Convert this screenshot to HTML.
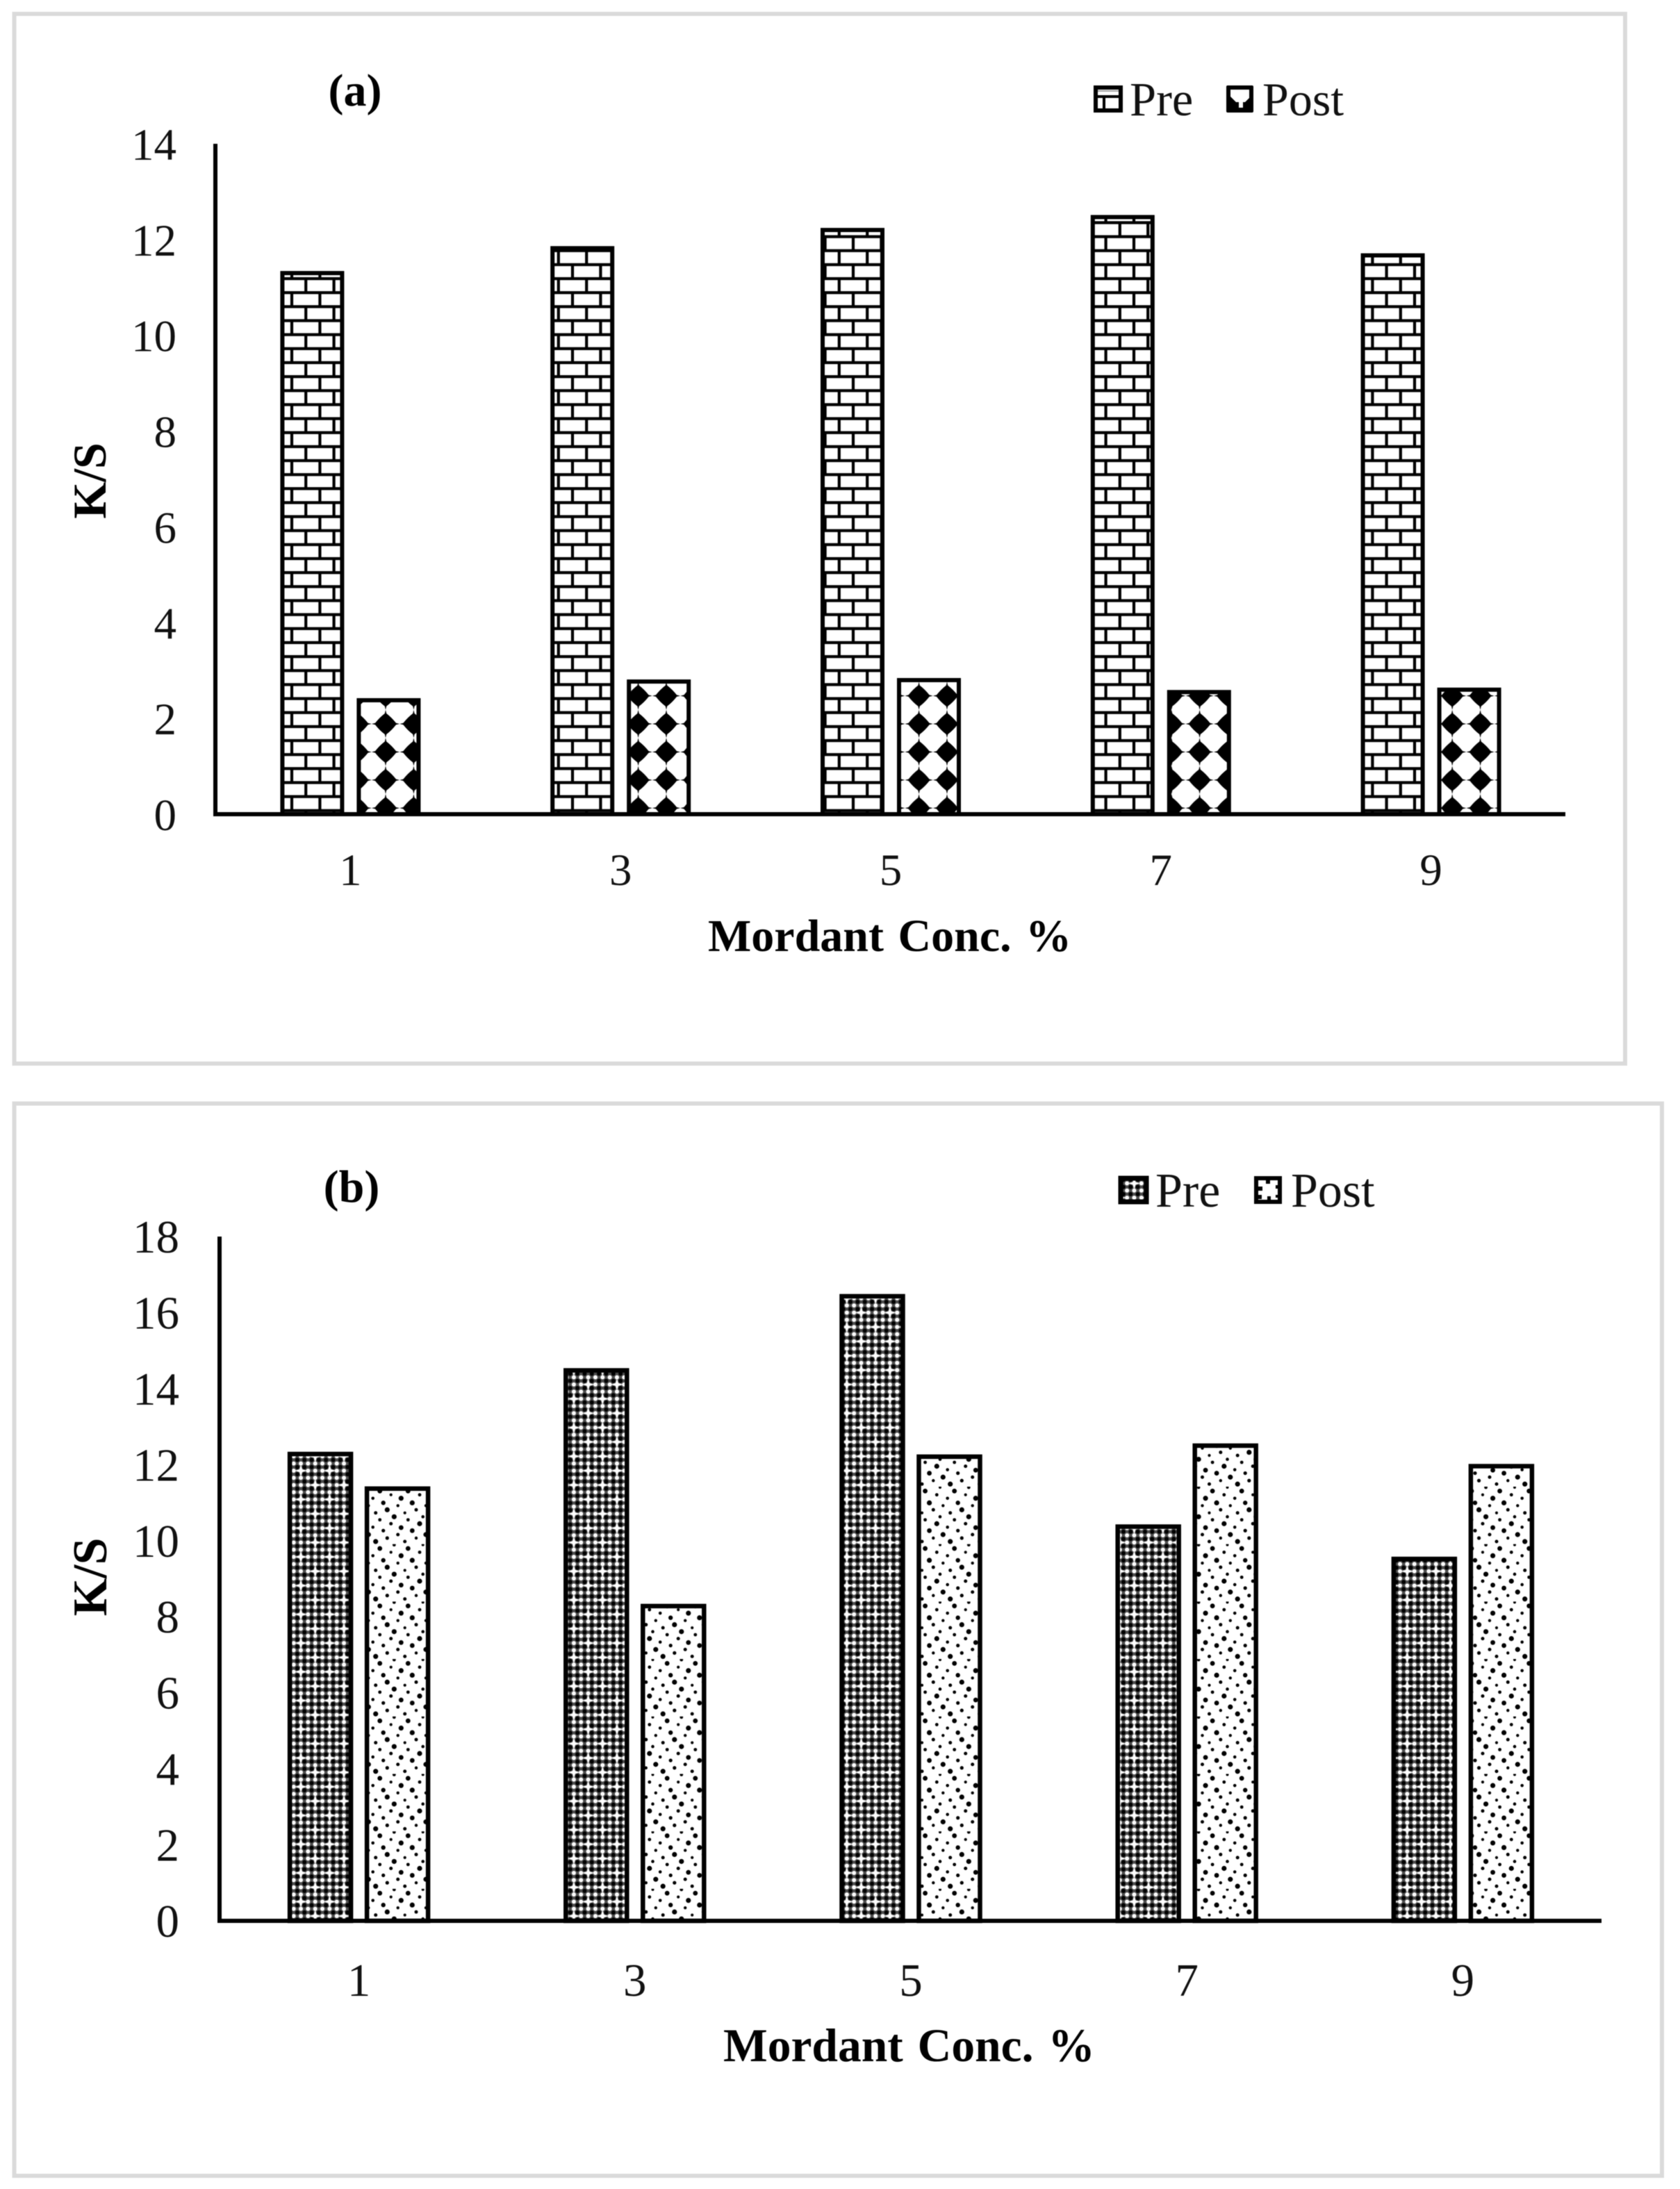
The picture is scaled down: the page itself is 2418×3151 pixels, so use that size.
<!DOCTYPE html>
<html lang="en">
<head>
<meta charset="utf-8">
<title>K/S vs Mordant Conc. %</title>
<style>
html,body{margin:0;padding:0;background:#fff;}
svg{display:block;filter:blur(0.6px);}
text{font-family:"Liberation Serif","Times New Roman",serif;fill:#111;}
.b{font-weight:bold;fill:#000;}
</style>
</head>
<body>
<svg id="figure" xmlns="http://www.w3.org/2000/svg" width="2418" height="3151" viewBox="0 0 2418 3151">
<defs>
  <pattern id="brick" patternUnits="userSpaceOnUse" x="420" y="925" width="40.4" height="40.3">
    <rect width="40.4" height="40.3" fill="#fff"/>
    <g stroke="#000" stroke-width="4.2" fill="none">
      <path d="M0 0H40.4M0 20.15H40.4M0 40.3H40.4"/>
      <path d="M20.2 0V20.15M0 20.15V40.3M40.4 20.15V40.3"/>
    </g>
  </pattern>
  <pattern id="stars" patternUnits="userSpaceOnUse" x="555" y="1042" width="40.4" height="40.4">
    <rect width="40.4" height="40.4" fill="#fff"/>
    <g fill="#000">
      <path d="M0 -20.2L1.2 -15Q9 -9 15 -1.2L20.2 0L15 1.2Q9 9 1.2 15L0 20.2L-1.2 15Q-9 9 -15 1.2L-20.2 0L-15 -1.2Q-9 -9 -1.2 -15Z"/>
      <path transform="translate(40.4,0)" d="M0 -20.2L1.2 -15Q9 -9 15 -1.2L20.2 0L15 1.2Q9 9 1.2 15L0 20.2L-1.2 15Q-9 9 -15 1.2L-20.2 0L-15 -1.2Q-9 -9 -1.2 -15Z"/>
      <path transform="translate(0,40.4)" d="M0 -20.2L1.2 -15Q9 -9 15 -1.2L20.2 0L15 1.2Q9 9 1.2 15L0 20.2L-1.2 15Q-9 9 -15 1.2L-20.2 0L-15 -1.2Q-9 -9 -1.2 -15Z"/>
      <path transform="translate(40.4,40.4)" d="M0 -20.2L1.2 -15Q9 -9 15 -1.2L20.2 0L15 1.2Q9 9 1.2 15L0 20.2L-1.2 15Q-9 9 -15 1.2L-20.2 0L-15 -1.2Q-9 -9 -1.2 -15Z"/>
    </g>
  </pattern>
  <pattern id="dense" patternUnits="userSpaceOnUse" x="433" y="2117" width="41.36" height="41.36">
    <rect width="41.36" height="41.36" fill="#4d4d4d"/>
    <g fill="#fff">
      <circle cx="0" cy="0" r="3"/><circle cx="10.34" cy="0" r="3"/><circle cx="20.68" cy="0" r="3"/><circle cx="31.02" cy="0" r="3"/><circle cx="41.36" cy="0" r="3"/>
      <circle cx="0" cy="10.34" r="3"/><circle cx="10.34" cy="10.34" r="3"/><circle cx="20.68" cy="10.34" r="3"/><circle cx="31.02" cy="10.34" r="3"/><circle cx="41.36" cy="10.34" r="3"/>
      <circle cx="0" cy="20.68" r="3"/><circle cx="10.34" cy="20.68" r="3"/><circle cx="20.68" cy="20.68" r="3"/><circle cx="31.02" cy="20.68" r="3"/><circle cx="41.36" cy="20.68" r="3"/>
      <circle cx="0" cy="31.02" r="3"/><circle cx="10.34" cy="31.02" r="3"/><circle cx="20.68" cy="31.02" r="3"/><circle cx="31.02" cy="31.02" r="3"/><circle cx="41.36" cy="31.02" r="3"/>
      <circle cx="0" cy="41.36" r="3"/><circle cx="10.34" cy="41.36" r="3"/><circle cx="20.68" cy="41.36" r="3"/><circle cx="31.02" cy="41.36" r="3"/><circle cx="41.36" cy="41.36" r="3"/>
    </g>
    <g fill="#000">
      <circle cx="5.17" cy="5.17" r="3"/><circle cx="15.51" cy="5.17" r="3"/><circle cx="25.85" cy="5.17" r="3"/><circle cx="36.19" cy="5.17" r="3"/>
      <circle cx="5.17" cy="15.51" r="3"/><circle cx="15.51" cy="15.51" r="3"/><circle cx="25.85" cy="15.51" r="3"/><circle cx="36.19" cy="15.51" r="3"/>
      <circle cx="5.17" cy="25.85" r="3"/><circle cx="15.51" cy="25.85" r="3"/><circle cx="25.85" cy="25.85" r="3"/><circle cx="36.19" cy="25.85" r="3"/>
      <circle cx="5.17" cy="36.19" r="3"/><circle cx="15.51" cy="36.19" r="3"/><circle cx="25.85" cy="36.19" r="3"/><circle cx="36.19" cy="36.19" r="3"/>
    </g>
    <g fill="#fff">
      <path d="M0 -9 L2 -2 L9 0 L2 2 L0 9 L-2 2 L-9 0 L-2 -2Z"/>
      <path d="M41.36 -9 L43.36 -2 L50.36 0 L43.36 2 L41.36 9 L39.36 2 L32.36 0 L39.36 -2Z"/>
      <path d="M0 32.36 L2 39.36 L9 41.36 L2 43.36 L0 50.36 L-2 43.36 L-9 41.36 L-2 39.36Z"/>
      <path d="M41.36 32.36 L43.36 39.36 L50.36 41.36 L43.36 43.36 L41.36 50.36 L39.36 43.36 L32.36 41.36 L39.36 39.36Z"/>
      <path d="M20.68 11.68 L22.68 18.68 L29.68 20.68 L22.68 22.68 L20.68 29.68 L18.68 22.68 L11.68 20.68 L18.68 18.68Z"/>
    </g>
  </pattern>
  <pattern id="sparse" patternUnits="userSpaceOnUse" x="526" y="2140" width="82.7" height="82.7">
    <rect width="82.7" height="82.7" fill="#fff"/>
    <g fill="#000">
      <circle cx="51.3" cy="16.7" r="3.6"/><circle cx="25.7" cy="23.3" r="3.2"/><circle cx="67.3" cy="23.3" r="3.6"/>
      <circle cx="31.3" cy="33.3" r="3.6"/><circle cx="41.3" cy="43.3" r="3.6"/><circle cx="78" cy="53.3" r="3.6"/>
      <circle cx="51.3" cy="59" r="3.4"/><circle cx="67.3" cy="63.3" r="3.4"/><circle cx="4.3" cy="69" r="3.6"/>
      <circle cx="14.7" cy="79" r="3.6"/><circle cx="20.7" cy="6.3" r="3.4"/><circle cx="61.3" cy="6.3" r="3.4"/>
      <circle cx="36.7" cy="11.7" r="2.1"/><circle cx="78" cy="11.7" r="2.4"/><circle cx="10.7" cy="16.7" r="2.3"/>
      <circle cx="46.7" cy="27.3" r="2.2"/><circle cx="4.3" cy="27.3" r="2.2"/><circle cx="73" cy="33.3" r="2.5"/>
      <circle cx="14.7" cy="37.7" r="2.5"/><circle cx="56.7" cy="37.7" r="2.1"/><circle cx="0" cy="43.3" r="2.3"/>
      <circle cx="82.7" cy="43.3" r="2.3"/><circle cx="20.7" cy="47.7" r="2.4"/><circle cx="61.3" cy="47.7" r="2.4"/>
      <circle cx="36.7" cy="53.3" r="2.5"/><circle cx="10.7" cy="58.3" r="2.3"/><circle cx="25.7" cy="63.3" r="2.6"/>
      <circle cx="46.7" cy="69" r="2.5"/><circle cx="31.3" cy="74" r="2.6"/><circle cx="73" cy="74" r="2.2"/>
      <circle cx="56.7" cy="79" r="2.5"/><circle cx="41.3" cy="1" r="2.4"/><circle cx="0" cy="1" r="2"/><circle cx="82.7" cy="1" r="2"/>
    </g>
  </pattern>
</defs>

<rect width="2418" height="3151" fill="#fff"/>

<rect x="20.5" y="20" width="2318.5" height="1511" fill="#fff" stroke="#dadada" stroke-width="6"/>
<rect x="20.5" y="1588.5" width="2371.5" height="1543.5" fill="#fff" stroke="#dadada" stroke-width="6"/>

<g id="chart-a"></g>
<g id="chart-b"></g>

<text class="b" x="511" y="152" font-size="66" text-anchor="middle">(a)</text>
<text class="b" x="506" y="1730" font-size="66" text-anchor="middle">(b)</text>

<text class="b" x="1019" y="1369" font-size="66" word-spacing="4">Mordant Conc. %</text>
<text class="b" x="1041" y="2967" font-size="67.5" word-spacing="4">Mordant Conc. %</text>

<text class="b" transform="translate(152,692) rotate(-90)" font-size="68" text-anchor="middle">K/S</text>
<text class="b" transform="translate(153,2270) rotate(-90)" font-size="70" text-anchor="middle">K/S</text>

<g>
  <g>
    <rect x="1577" y="126" width="36" height="33" fill="#fff" stroke="#000" stroke-width="6"/>
    <path d="M1577 139H1613M1589 139V159" stroke="#000" stroke-width="4" fill="none"/>
    <path d="M1580 131H1610" stroke="#000" stroke-width="2" opacity=".35" fill="none"/>
    <text x="1626" y="166" font-size="68.5">Pre</text>
  </g>
  <g>
    <rect x="1765" y="123" width="39" height="39" fill="#000" rx="2"/>
    <path d="M1771 129H1798V141L1792 147H1789V155H1783V147H1779L1771 139Z" fill="#fff"/>
    <text x="1817" y="166" font-size="68">Post</text>
  </g>
</g>
<g>
  <g>
    <rect x="1613" y="1696" width="37" height="34" fill="url(#dense)" stroke="#000" stroke-width="7"/>
    <text x="1663" y="1737" font-size="70">Pre</text>
  </g>
  <g>
    <rect x="1808" y="1696" width="34" height="34" fill="#fff" stroke="#000" stroke-width="6"/>
    <path d="M1811 1708H1817V1714H1811ZM1836 1706H1842V1711H1836ZM1811 1720H1816V1726H1811ZM1824 1722H1829V1730H1824ZM1822 1699H1828V1704H1822ZM1836 1720H1842V1724H1836Z" fill="#000"/>
    <text x="1858" y="1737" font-size="70">Post</text>
  </g>
</g>
</svg>

<script>
const categoriesA = ["1", "3", "5", "7", "9"];
const preValuesA = [11.3, 11.82, 12.2, 12.47, 11.67];
const postValuesA = [2.38, 2.77, 2.8, 2.55, 2.6];
const yTicksA = [0, 2, 4, 6, 8, 10, 12, 14];

const categoriesB = ["1", "3", "5", "7", "9"];
const preValuesB = [12.28, 14.48, 16.43, 10.37, 9.52];
const postValuesB = [11.37, 8.28, 12.21, 12.5, 11.96];
const yTicksB = [0, 2, 4, 6, 8, 10, 12, 14, 16, 18];

const SVG_NS = "http://www.w3.org/2000/svg";

function svgEl(tag) {
  return document.createElementNS(SVG_NS, tag);
}

function drawChart(root, cfg) {
  const yMax = cfg.yTicks[cfg.yTicks.length - 1];
  const yScale = function (v) {
    return cfg.base - (v * (cfg.base - cfg.top)) / yMax;
  };
  const band = (cfg.bandEnd - cfg.bandStart) / cfg.categories.length;
  const xCenter = function (i) {
    return cfg.bandStart + (i + 0.5) * band;
  };

  function drawBar(value, cx, fill, name) {
    const y = yScale(value);
    const r = svgEl("rect");
    r.setAttribute("x", cx - cfg.barWidth / 2);
    r.setAttribute("y", y);
    r.setAttribute("width", cfg.barWidth);
    r.setAttribute("height", cfg.base - y);
    r.setAttribute("fill", fill);
    r.setAttribute("stroke", "#000");
    r.setAttribute("stroke-width", cfg.barStroke);
    
    
    root.appendChild(r);
  }

  cfg.categories.forEach(function (cat, i) {
    drawBar(cfg.pre[i], xCenter(i) - cfg.barOffset, cfg.preFill, "bar-pre-" + cat);
    drawBar(cfg.post[i], xCenter(i) + cfg.barOffset, cfg.postFill, "bar-post-" + cat);
    const t = svgEl("text");
    t.setAttribute("x", xCenter(i));
    t.setAttribute("y", cfg.catY);
    t.setAttribute("font-size", cfg.tickFont);
    t.setAttribute("text-anchor", "middle");
    
    
    t.textContent = cat;
    root.appendChild(t);
  });

  cfg.yTicks.forEach(function (tick) {
    const t = svgEl("text");
    t.setAttribute("x", cfg.tickX);
    t.setAttribute("y", yScale(tick) + 23);
    t.setAttribute("font-size", cfg.tickFont);
    t.setAttribute("text-anchor", "end");
    
    
    t.textContent = String(tick);
    root.appendChild(t);
  });

  const yAxis = svgEl("line");
  yAxis.setAttribute("x1", cfg.left);
  yAxis.setAttribute("x2", cfg.left);
  yAxis.setAttribute("y1", cfg.top);
  yAxis.setAttribute("y2", cfg.base + 3);
  yAxis.setAttribute("stroke", "#000");
  yAxis.setAttribute("stroke-width", 6);
  
  
  root.appendChild(yAxis);

  const xAxis = svgEl("line");
  xAxis.setAttribute("x1", cfg.left - 3);
  xAxis.setAttribute("x2", cfg.right);
  xAxis.setAttribute("y1", cfg.base);
  xAxis.setAttribute("y2", cfg.base);
  xAxis.setAttribute("stroke", "#000");
  xAxis.setAttribute("stroke-width", 6);
  
  
  root.appendChild(xAxis);
}

drawChart(document.getElementById("chart-a"), {
  categories: categoriesA,
  pre: preValuesA,
  post: postValuesA,
  yTicks: yTicksA,
  left: 310,
  right: 2253,
  bandStart: 310,
  bandEnd: 2254,
  top: 207,
  base: 1172,
  barWidth: 86,
  barStroke: 6,
  barOffset: 55,
  tickX: 254,
  catY: 1274,
  tickFont: 65,
  preFill: "url(#brick)",
  postFill: "url(#stars)"
});

drawChart(document.getElementById("chart-b"), {
  categories: categoriesB,
  pre: preValuesB,
  post: postValuesB,
  yTicks: yTicksB,
  left: 316,
  right: 2305,
  bandStart: 318,
  bandEnd: 2304,
  top: 1780,
  base: 2765,
  barWidth: 88,
  barStroke: 6.5,
  barOffset: 55.5,
  tickX: 258,
  catY: 2873,
  tickFont: 67,
  preFill: "url(#dense)",
  postFill: "url(#sparse)"
});
</script>
</body>
</html>
